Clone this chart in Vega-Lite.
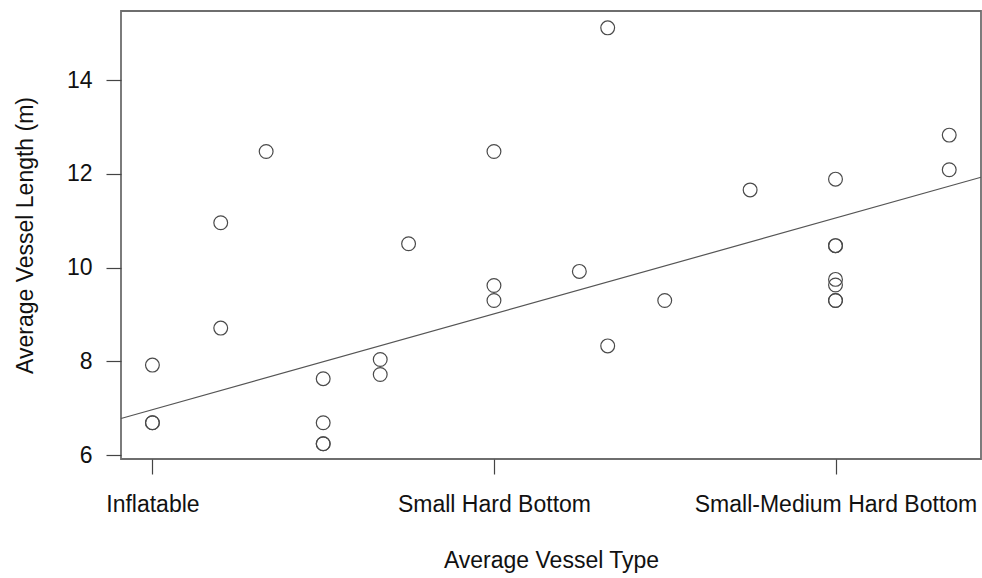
{
  "$schema": "https://vega.github.io/schema/vega-lite/v6.json",
  "width": 860,
  "height": 448,
  "autosize": {"type": "none"},
  "padding": {"left": 121, "top": 11, "right": 1, "bottom": 119},
  "background": "white",
  "config": {
    "view": {"stroke": "#6e6e6e", "strokeWidth": 1.8},
    "font": "Liberation Sans",
    "axis": {
      "grid": false,
      "domain": false,
      "tickColor": "#444444",
      "tickSize": 15,
      "tickWidth": 1.2,
      "labelFontSize": 23,
      "titleFontSize": 23,
      "labelColor": "#111111",
      "titleColor": "#111111",
      "labelFont": "Liberation Sans",
      "titleFont": "Liberation Sans",
      "titleFontWeight": "normal",
      "labelLimit": 500,
      "titleLimit": 600
    }
  },
  "layer": [
    {
      "data": {
        "values": [
          {"type": 1, "length": 7.92},
          {"type": 1, "length": 6.69},
          {"type": 1, "length": 6.69},
          {"type": 1.2, "length": 10.96},
          {"type": 1.2, "length": 8.71},
          {"type": 1.333, "length": 12.48},
          {"type": 1.5, "length": 7.63},
          {"type": 1.5, "length": 6.69},
          {"type": 1.5, "length": 6.24},
          {"type": 1.5, "length": 6.24},
          {"type": 1.667, "length": 8.04},
          {"type": 1.667, "length": 7.72},
          {"type": 1.75, "length": 10.51},
          {"type": 2, "length": 12.48},
          {"type": 2, "length": 9.62},
          {"type": 2, "length": 9.3},
          {"type": 2.25, "length": 9.92},
          {"type": 2.333, "length": 15.12},
          {"type": 2.333, "length": 8.33},
          {"type": 2.5, "length": 9.3},
          {"type": 2.75, "length": 11.66},
          {"type": 3, "length": 11.89},
          {"type": 3, "length": 10.47},
          {"type": 3, "length": 10.47},
          {"type": 3, "length": 9.75},
          {"type": 3, "length": 9.63},
          {"type": 3, "length": 9.3},
          {"type": 3, "length": 9.3},
          {"type": 3.333, "length": 12.83},
          {"type": 3.333, "length": 12.09}
        ]
      },
      "mark": {"type": "point", "shape": "circle", "filled": false, "size": 190, "stroke": "#4a4a4a", "strokeWidth": 1.2, "opacity": 1},
      "encoding": {
        "x": {
          "field": "type",
          "type": "quantitative",
          "scale": {"domain": [0.908, 3.426], "nice": false, "zero": false},
          "axis": {
            "values": [1, 2, 3],
            "labelExpr": "datum.value == 1 ? 'Inflatable' : datum.value == 2 ? 'Small Hard Bottom' : 'Small-Medium Hard Bottom'",
            "labelBaseline": "alphabetic",
            "labelPadding": 37,
            "labelFlush": false,
            "labelOverlap": false,
            "labelBound": false,
            "title": "Average Vessel Type",
            "titleBaseline": "alphabetic",
            "titleY": 108,
            "titleX": 430,
            "titleAlign": "center"
          }
        },
        "y": {
          "field": "length",
          "type": "quantitative",
          "scale": {"domain": [5.915, 15.48], "nice": false, "zero": false},
          "axis": {
            "values": [6, 8, 10, 12, 14],
            "labelAngle": 0,
            "labelAlign": "right",
            "labelBaseline": "middle",
            "labelPadding": 14,
            "labelOverlap": false,
            "labelBound": false,
            "title": "Average Vessel Length (m)",
            "titleAngle": 270,
            "titleBaseline": "alphabetic",
            "titleAlign": "center",
            "titleX": -89,
            "titleY": 224
          }
        }
      }
    },
    {
      "data": {
        "values": [
          {"type": 0.908, "length": 6.78},
          {"type": 3.426, "length": 11.93}
        ]
      },
      "mark": {"type": "line", "stroke": "#555555", "strokeWidth": 1.2},
      "encoding": {
        "x": {"field": "type", "type": "quantitative"},
        "y": {"field": "length", "type": "quantitative"}
      }
    }
  ]
}
